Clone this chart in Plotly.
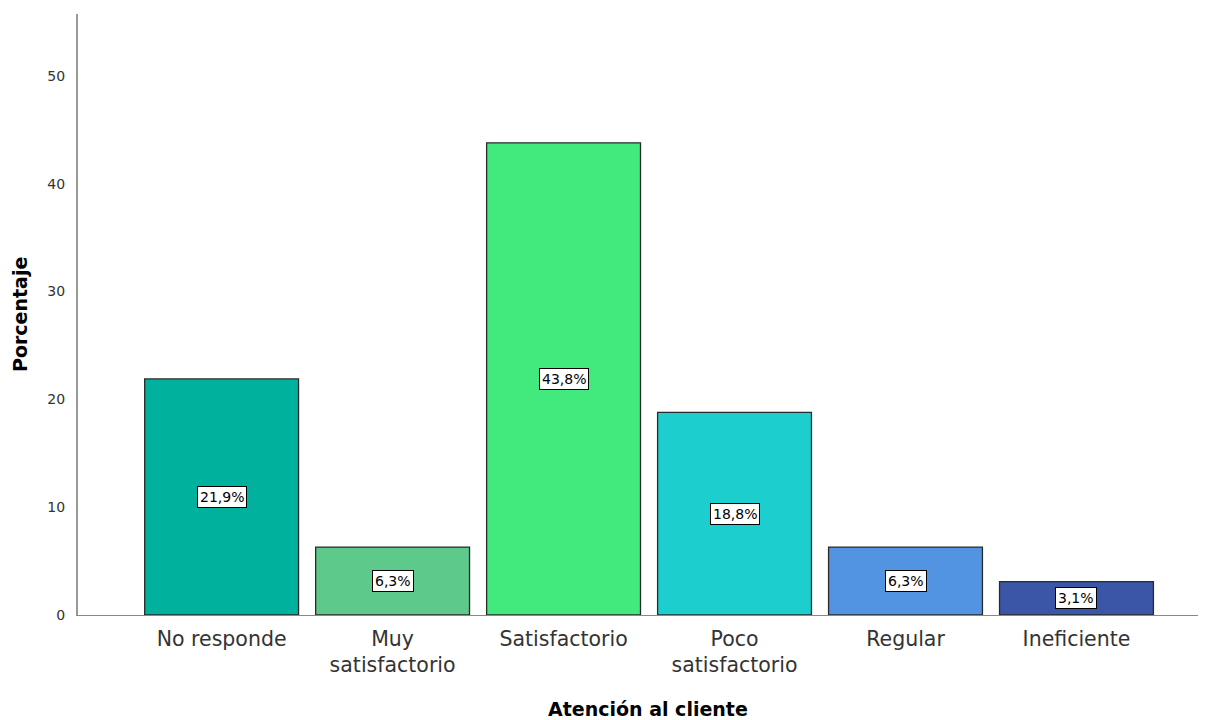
import plotly.graph_objects as go

categorias = ["No responde", "Muy<br>satisfactorio", "Satisfactorio",
              "Poco<br>satisfactorio", "Regular", "Ineficiente"]
porcentajes = [21.9, 6.3, 43.8, 18.8, 6.3, 3.1]
etiquetas = ["21,9%", "6,3%", "43,8%", "18,8%", "6,3%", "3,1%"]
colores = ["#00B29D", "#5DC98A", "#42EA7E", "#1DCECE", "#5294E2", "#3B56A6"]

x_idx = list(range(len(categorias)))
fuente = "DejaVu Sans, Arial"

fig = go.Figure()
fig.add_trace(go.Bar(
    x=x_idx,
    y=porcentajes,
    width=0.9,
    marker=dict(color=colores, line=dict(color="#2a2a2a", width=1.3)),
    hoverinfo="skip",
))

# etiquetas de valor en recuadro blanco, centradas en la barra
for i, (v, t) in enumerate(zip(porcentajes, etiquetas)):
    fig.add_annotation(
        x=i, y=max(v / 2, 1.3), text=t, showarrow=False,
        font=dict(family=fuente, size=14, color="black"),
        bgcolor="white", bordercolor="black", borderwidth=1, borderpad=2,
    )

# títulos de los ejes
fig.add_annotation(
    xref="paper", yref="paper", x=0.507, y=-0.156,
    xanchor="center", yanchor="middle",
    text="<b>Atención al cliente</b>", showarrow=False,
    font=dict(family=fuente, size=19, color="black"),
)
fig.add_annotation(
    xref="paper", yref="paper", x=-0.052, y=0.5,
    xanchor="center", yanchor="middle",
    text="<b>Porcentaje</b>", textangle=-90, showarrow=False,
    font=dict(family=fuente, size=19, color="black"),
)

# la página deja 8 px de margen en el body: se descuentan aquí
fig.update_layout(
    width=1198, height=712,
    margin=dict(l=70, r=3, t=6, b=105),
    plot_bgcolor="white", paper_bgcolor="white",
    showlegend=False,
    font=dict(family=fuente, color="#222"),
    xaxis=dict(
        tickmode="array", tickvals=x_idx, ticktext=categorias,
        range=[-0.84, 5.74], showgrid=False, zeroline=False,
        showline=True, linecolor="#888", linewidth=1,
        ticks="", ticklabelstandoff=5,
        tickfont=dict(size=20.5, color="#333"),
    ),
    yaxis=dict(
        range=[0, 55.75], tickvals=[0, 10, 20, 30, 40, 50],
        showgrid=False, zeroline=False,
        showline=True, linecolor="#999", linewidth=2,
        ticks="", ticklabelstandoff=8,
        tickfont=dict(size=14, color="#333"),
    ),
)

fig.write_html("out.html")
